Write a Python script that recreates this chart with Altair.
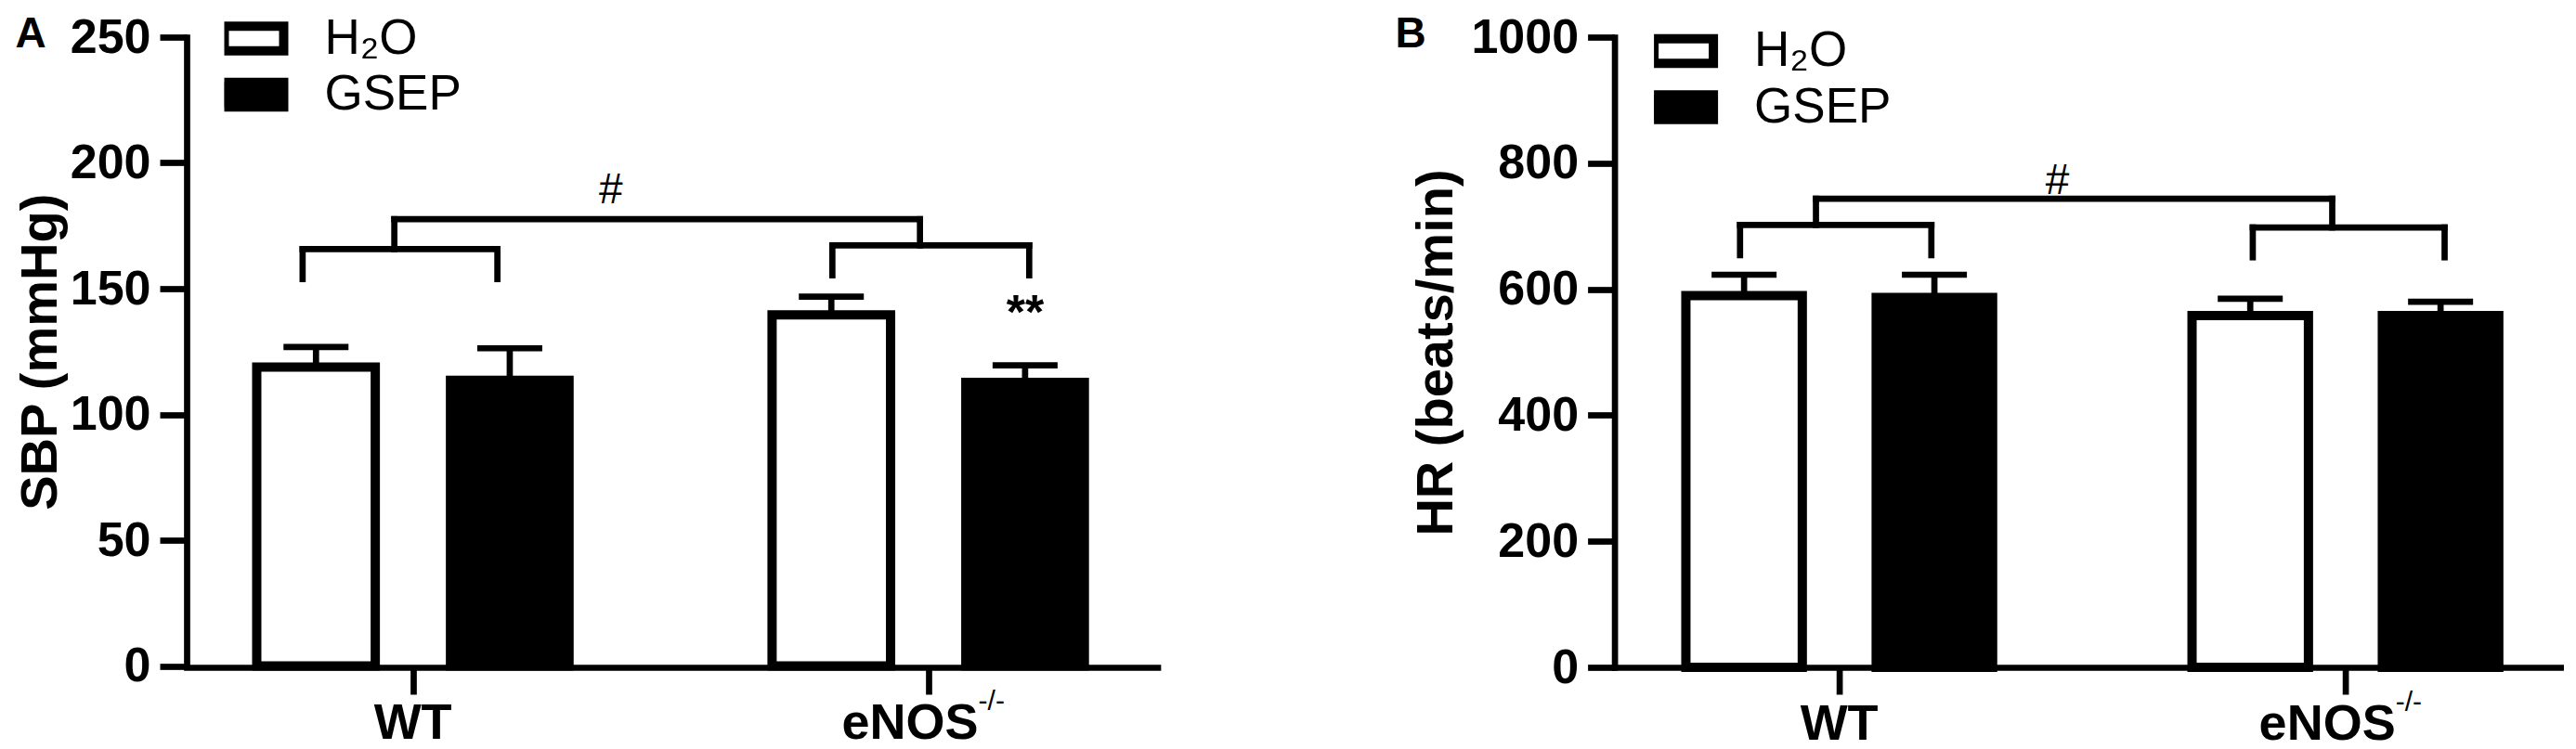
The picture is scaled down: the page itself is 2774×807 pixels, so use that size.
import altair as alt
import pandas as pd

FONT = "Liberation Sans"

# ---------------- data ----------------
groups = ["WT", "eNOS"]              # x categories (eNOS carries a -/- superscript)
group_sup = "-/-"
group_index = [0, 1]
treatments = ["H₂O", "GSEP"]
bar_offset = [-0.188, 0.188]          # position of each treatment inside a group

sbp_mean = [118.8, 113.6, 139.6, 112.7]   # WT-H2O, WT-GSEP, eNOS-H2O, eNOS-GSEP
sbp_sem = [8.0, 12.7, 7.2, 6.8]
hr_mean = [590, 587, 558, 558]
hr_sem = [33, 36, 27, 22]

sbp_ticks = [0, 50, 100, 150, 200, 250]
hr_ticks = [0, 200, 400, 600, 800, 1000]

# significance brackets (x in group units, y in data units)
sbp_legs_x = [-0.214, 0.164, 0.814, 1.196]
sbp_inner_y = [165.7, 167.2]
sbp_leg_bottom = [153.8, 155.3]
sbp_stem_x = [-0.036, 0.984]
sbp_outer_y = 177.6
sbp_hash = [0.384, 189]
sbp_stars = [[1.188, 140, "**"]]

hr_legs_x = [-0.196, 0.182, 0.817, 1.196]
hr_inner_y = [702, 698]
hr_leg_bottom = [654, 650.6]
hr_stem_x = [-0.046, 0.974]
hr_outer_y = 743.6
hr_hash = [0.431, 771]
hr_stars = []

HALF = 0.115   # half bar width in group units
LW = 6.7


def panel(mean, sem, ticks, title, legs_x, inner_y, leg_bottom, stem_x, outer_y,
          hash_pos, stars, x_domain, width, height, y_range, letter, letter_x,
          legend_x, legend_y, title_pad):
    rows = []
    for gi, g in enumerate(group_index):
        for ti, t in enumerate(treatments):
            k = gi * 2 + ti
            p = g + bar_offset[ti]
            rows.append(dict(treat=t, pos=p, lo=p - HALF, hi=p + HALF,
                             mean=mean[k], top=mean[k] + sem[k]))
    bars_df = pd.DataFrame(rows)

    segs = []
    for j in range(2):
        xl, xr = legs_x[2 * j], legs_x[2 * j + 1]
        segs.append((xl, inner_y[j], xr, inner_y[j]))
        segs.append((xl, inner_y[j], xl, leg_bottom[j]))
        segs.append((xr, inner_y[j], xr, leg_bottom[j]))
        segs.append((stem_x[j], outer_y, stem_x[j], inner_y[j]))
    segs.append((stem_x[0], outer_y, stem_x[1], outer_y))
    seg_df = pd.DataFrame(segs, columns=["x", "y", "x2", "y2"])

    xs = alt.Scale(domain=x_domain, nice=False, zero=False)
    ys = alt.Scale(domain=[ticks[0], ticks[-1]], nice=False, range=y_range)
    xa = alt.Axis(values=group_index, title=None, labels=False,
                  tickSize=29, tickWidth=LW, domainWidth=LW,
                  domainCap="square", zindex=1)
    ya = alt.Axis(values=ticks, title=title, format="d", tickSize=29, tickWidth=LW,
                  domainWidth=LW, labelPadding=10, labelFont=FONT,
                  labelFontSize=52, labelFontWeight="bold", titleFont=FONT,
                  titleFontSize=56, titleFontWeight="bold", titlePadding=title_pad,
                  domainCap="square", labelOverlap=False, labelFlush=False, zindex=1)

    X = lambda f: alt.X(f, scale=xs, axis=xa)
    Y = lambda f: alt.Y(f, scale=ys, axis=ya)

    base = alt.Chart(bars_df)
    bars = base.mark_bar(stroke="black", strokeWidth=10, strokeJoin="miter").encode(
        x=X("lo:Q"),
        x2="hi:Q",
        y=Y("mean:Q"),
        y2=alt.datum(0),
        fill=alt.Fill("treat:N", scale=alt.Scale(domain=treatments, range=["white", "black"]),
                      legend=alt.Legend(title=None, orient="none", legendX=legend_x,
                                        legendY=legend_y, symbolType="M-1.2,-0.5H1.2V0.5H-1.2Z",
                                        symbolSize=2844, symbolStrokeWidth=10,
                                        symbolStrokeColor="black", labelFont=FONT,
                                        labelFontSize=53, labelOffset=44, rowPadding=6.5,
                                        clipHeight=53, padding=0, labelColor="black")),
    )
    err = base.mark_rule(color="black", strokeWidth=LW).encode(
        x=X("pos:Q"), y=Y("mean:Q"), y2="top:Q")
    cap = base.mark_tick(color="black", orient="horizontal", size=70, thickness=LW,
                         opacity=1).encode(x=X("pos:Q"), y=Y("top:Q"))
    brackets = alt.Chart(seg_df).mark_rule(color="black", strokeWidth=LW,
                                           strokeCap="square").encode(
        x=X("x:Q"), x2="x2:Q", y=Y("y:Q"), y2="y2:Q")
    hash_df = pd.DataFrame({"x": [hash_pos[0]], "y": [hash_pos[1]], "t": ["#"]})
    hashes = alt.Chart(hash_df).mark_text(font=FONT, fontSize=46, color="black",
                                          baseline="middle").encode(
        x=X("x:Q"), y=Y("y:Q"), text="t:N")
    layers = [bars, err, cap, brackets, hashes]
    if stars:
        star_df = pd.DataFrame(stars, columns=["x", "y", "t"])
        layers.append(alt.Chart(star_df).mark_text(font=FONT, fontSize=52, fontWeight="bold",
                                                   color="black", baseline="middle").encode(
            x=X("x:Q"), y=Y("y:Q"), text="t:N"))

    # category labels under the x axis
    lab0 = pd.DataFrame({"x": [group_index[0]], "y": [ticks[0]], "t": [groups[0]]})
    lab1 = pd.DataFrame({"x": [group_index[1]], "y": [ticks[0]], "t": [groups[1]]})
    sup = pd.DataFrame({"x": [group_index[1]], "y": [ticks[0]], "t": [group_sup]})
    layers.append(alt.Chart(lab0).mark_text(font=FONT, fontSize=54, fontWeight="bold",
                                            color="black", align="center", baseline="top",
                                            dy=35).encode(x=X("x:Q"), y=Y("y:Q"), text="t:N"))
    layers.append(alt.Chart(lab1).mark_text(font=FONT, fontSize=54, fontWeight="bold",
                                            color="black", align="right", baseline="top",
                                            dx=54, dy=35).encode(x=X("x:Q"), y=Y("y:Q"), text="t:N"))
    layers.append(alt.Chart(sup).mark_text(font=FONT, fontSize=30, color="black",
                                           align="left", baseline="middle",
                                           dx=54, dy=38).encode(
        x=X("x:Q"), y=Y("y:Q"), text="t:N"))

    let_df = pd.DataFrame({"t": [letter]})
    layers.append(alt.Chart(let_df).mark_text(font=FONT, fontSize=46, fontWeight="bold",
                                              color="black", align="left",
                                              baseline="alphabetic").encode(
        x=alt.value(letter_x), y=alt.value(11), text="t:N"))
    return alt.layer(*layers).properties(width=width, height=height)


A = panel(sbp_mean, sbp_sem, sbp_ticks, "SBP (mmHg)", sbp_legs_x, sbp_inner_y,
          sbp_leg_bottom, sbp_stem_x, sbp_outer_y, sbp_hash, sbp_stars,
          [-0.439, 1.445], 1045.5, 679, [677.5, 0], "A", -184.5, 40.5, -25, 2.8)
B = panel(hr_mean, hr_sem, hr_ticks, "HR (beats/min)", hr_legs_x, hr_inner_y,
          hr_leg_bottom, hr_stem_x, hr_outer_y, hr_hash, hr_stars,
          [-0.444, 1.431], 1022, 679, [679, 0], "B", -236, 42.5, -11.5, 8)

chart = (
    alt.hconcat(A, B, spacing=255.6)
    .resolve_scale(fill="independent", x="independent", y="independent")
    .resolve_legend(fill="independent")
    .properties(padding={"left": 7, "top": 6, "right": 0, "bottom": 0}, background="white")
    .configure_view(stroke=None)
    .configure_axis(domainColor="black", tickColor="black", labelColor="black",
                    titleColor="black", grid=False)
)

chart.save("out.html", embed_options={"renderer": "svg", "actions": False})
